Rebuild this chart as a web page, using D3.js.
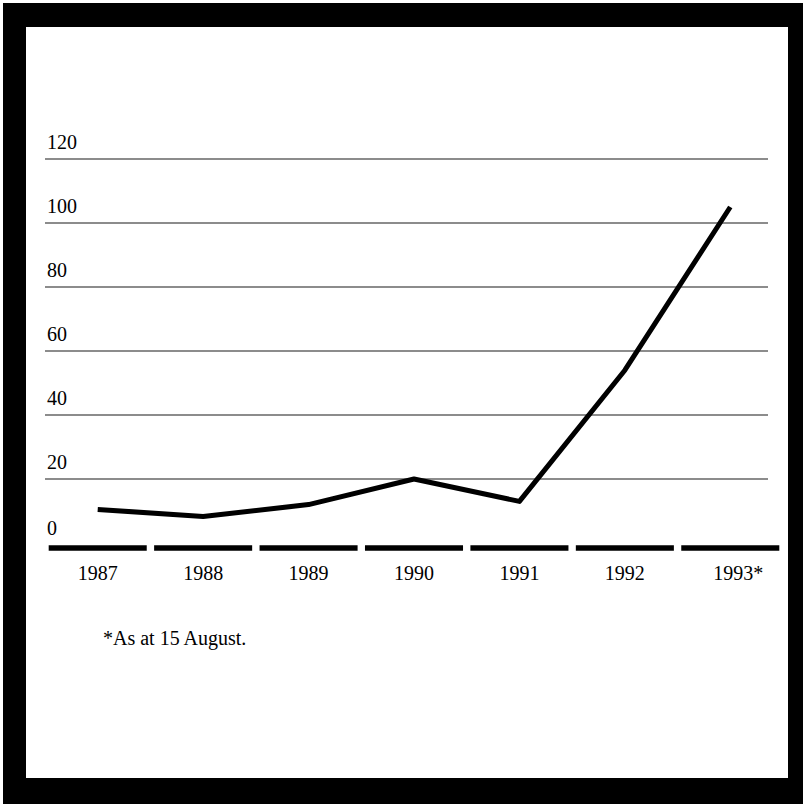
<!DOCTYPE html>
<html>
<head>
<meta charset="utf-8">
<script src="https://cdn.jsdelivr.net/npm/d3@7/dist/d3.min.js"></script>
<style>
  html, body { margin: 0; padding: 0; background: #fff; }
  svg { display: block; }
</style>
</head>
<body>
<svg id="chart" width="803" height="804"></svg>
<script>
// ---- data ----
const years = ["1987", "1988", "1989", "1990", "1991", "1992", "1993"];
const yearLabels = ["1987", "1988", "1989", "1990", "1991", "1992", "1993*"];
const values = [10.5, 8.3, 12, 20, 13, 54, 105];
const yTicks = [0, 20, 40, 60, 80, 100, 120];
const footnote = "*As at 15 August.";

const svg = d3.select("#chart");
const font = "'Liberation Serif', 'Times New Roman', serif";

// frame
svg.append("rect").attr("x", 3).attr("y", 3).attr("width", 800).attr("height", 801).attr("fill", "#000");
svg.append("rect").attr("x", 26).attr("y", 27).attr("width", 762).attr("height", 751).attr("fill", "#fff");

const x = d3.scaleBand().domain(years).range([45, 783]).paddingInner(0.07).paddingOuter(0.035);
const y = d3.scaleLinear().domain([0, 120]).range([543, 159]);

// gridlines
svg.append("g").selectAll("line")
  .data(yTicks.filter(d => d > 0))
  .join("line")
  .attr("x1", 45).attr("x2", 768)
  .attr("y1", d => y(d)).attr("y2", d => y(d))
  .attr("stroke", "#666").attr("stroke-width", 1.3);

// y labels
svg.append("g").selectAll("text")
  .data(yTicks)
  .join("text")
  .attr("x", 47)
  .attr("y", d => y(d) - (d === 0 ? 8 : 10))
  .attr("font-family", font).attr("font-size", 20).attr("fill", "#000")
  .text(d => d);

// dashed baseline: one segment per category band
svg.append("g").selectAll("line")
  .data(years)
  .join("line")
  .attr("x1", d => x(d)).attr("x2", d => x(d) + x.bandwidth())
  .attr("y1", y(0) + 5).attr("y2", y(0) + 5)
  .attr("stroke", "#000").attr("stroke-width", 5.5);

// x labels
svg.append("g").selectAll("text")
  .data(years)
  .join("text")
  .attr("x", d => x(d) + x.bandwidth() / 2 + (d === "1993" ? 8 : 0))
  .attr("y", 580)
  .attr("text-anchor", "middle")
  .attr("font-family", font).attr("font-size", 20).attr("fill", "#000")
  .text((d, i) => yearLabels[i]);

// line
const line = d3.line()
  .x((d, i) => x(years[i]) + x.bandwidth() / 2)
  .y(d => y(d));
svg.append("path")
  .datum(values)
  .attr("d", line)
  .attr("fill", "none")
  .attr("stroke", "#000")
  .attr("stroke-width", 5)
  .attr("stroke-linejoin", "round");

// footnote
svg.append("text")
  .attr("x", 103).attr("y", 645)
  .attr("font-family", font).attr("font-size", 20).attr("fill", "#000")
  .text(footnote);
</script>
</body>
</html>
